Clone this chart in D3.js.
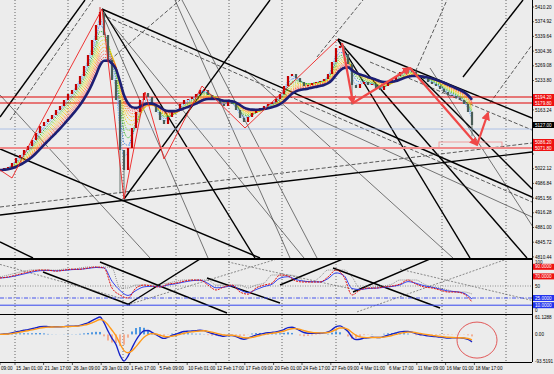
<!DOCTYPE html>
<html>
<head>
<meta charset="utf-8">
<script src="https://cdn.jsdelivr.net/npm/d3@7"></script>
<style>
  body { margin: 0; background: #ececec; }
  svg { display: block; }
  text { font-family: "Liberation Sans", Arial, sans-serif; }
</style>
</head>
<body>
<div id="chart"></div>
<script>
// closing prices, one per bar
const closes = [5019,5023.8,5026.2,5035.8,5047.8,5055,5067,5076.6,5091,5107.8,
  5124.6,5134.2,5141.4,5151,5163,5172.6,5187,5201.4,5211,5225.4,
  5244.6,5268.6,5295,5331,5367,5398.2,5343,5283,5235,5187,
  5067,5019,5071.8,5119.8,5158.2,5187,5203.8,5194.2,5175,5158.2,
  5139,5129.4,5146.2,5158.2,5163,5177.4,5187,5189.4,5194.2,5201.4,
  5211,5211,5199,5191.8,5187,5177.4,5172.6,5184.6,5177.4,5163,
  5143.8,5134.2,5146.2,5155.8,5163,5167.8,5172.6,5177.4,5182.2,5189.4,
  5201.4,5220.6,5244.6,5249.4,5239.8,5230.2,5220.6,5223,5227.8,5230.2,
  5232.6,5237.4,5249.4,5278.2,5311.8,5316.6,5297.4,5273.4,5223,5215.8,
  5225.4,5230.2,5223,5225.4,5215.8,5211,5220.6,5227.8,5235,5244.6,
  5254.2,5259,5261.4,5254.2,5244.6,5239.8,5237.4,5230.2,5225.4,5220.6,
  5213.4,5206.2,5199,5196.6,5191.8,5187,5177.4,5158.2,5127];
// [bar, high, low] for bars with visible wicks
const spikes = [[25,5410,5380],[30,5100,4962],[31,5060,4951.8],[88,5235,5175],[102,5266,5250],[118,5160,5100]];

// oscillator readings, one every second bar
const oscValues = [66.7,68.8,72.9,77,81,83.3,83,81,83,85,85,87.5,89.6,87.5,45.8,31.3,25,45.8,52,50,
  48,54,56,60,62.5,62.5,52,41.7,48,52,37.5,33,45.8,52,56,72.9,70.8,60.4,58.3,58.3,
  58.3,68.8,83.3,68.8,31.3,41.7,45.8,45.8,48,50,54,62.5,54,48,45.8,41.7,37.5,37.5,33.3,16.7];

const priceTicks = [5410.2,5374.92,5339.64,5304.36,5269.08,5233.8,5198.52,5163.24,5127.96,5092.68,
  5057.4,5022.12,4986.84,4951.56,4916.28,4881,4845.72,4810.44];
const redLevels = [5194.2, 5179.8];
const boxLevels = [5086.2, 5071.8];
const askLevel = 5117.4;
const boxBars = [109.75, 125.5];

const timeLabels = ["09:00","15 Jan 01:00","21 Jan 17:00","26 Jan 09:00","29 Jan 01:00","1 Feb 17:00",
  "5 Feb 09:00","10 Feb 01:00","12 Feb 17:00","17 Feb 09:00","20 Feb 01:00","24 Feb 17:00",
  "27 Feb 09:00","4 Mar 01:00","6 Mar 17:00","11 Mar 09:00","16 Mar 01:00","18 Mar 17:00"];
const timeLabelBars = [0,3.75,10.9,18.1,25.3,32.5,39.6,46.8,54,61.2,68.4,75.5,82.7,89.9,97,104.2,111.4,118.6];
const gridBars = [3.75,17,30.75,44,57.25,70.5,84,110.5,126.5];

const ribbonPeriods = [2,3,4,5,6,7,8,9,10,11];
const ribbonColors = ["#5aa8ff","#2f7fe8","#19b319","#7fd21e","#d8d800","#ffc400","#ff9a00","#ff6d2a","#ff3b3b","#e02020"];
const trendPeriod = 12;

// zigzag and arrows: [bar, price]
const zigzag = [[0,5019],[3,4999.8],[9.5,5119.8],[25.5,5405.4],[31,4949.4],[36.25,5206.2],[41,5045.4],[50.5,5220.6],[61.25,5119.8],[84.5,5333.4]];
const arrows = [[[85.5,5323.8],[88.25,5179.8]],[[88.25,5179.8],[102.5,5263.8]],[[102.5,5263.8],[119.25,5079]],[[119.25,5079],[122,5155.8]]];

// drawing objects in the price window: [[bar, price],[bar, price]]
const thickLines = [
  [[25.5,5405.4],[133,4954.2]], [[0,5069.4],[65,4807.8]], [[0,4846.2],[8.25,4807.8]],
  [[25.5,5405.4],[63.75,4807.8]], [[84.5,5331],[117.5,4807.8]], [[84.5,5333.4],[133,5143.8]],
  [[84.5,5331],[131.75,4807.8]], [[0,5146.2],[21.25,5427]], [[31,4949.4],[67.5,5427]],
  [[115.75,5242.2],[130.75,5427]], [[0,4911],[133,5062.2]], [[105,5242.2],[133,4973.4]]];
const thinLines = [
  [[25.75,5395.8],[76,4807.8]], [[26.25,5379],[52,4807.8]], [[75,5160.6],[133,4906.2]],
  [[107.5,5263.8],[133.25,4882.2]], [[61.25,5259],[113.25,4807.8]], [[43.75,5427],[72.5,4807.8]],
  [[45.5,5427],[79.25,4807.8]], [[0,5199],[37.5,4807.8]]];
const dashedLines = [
  [[0,4930.2],[133,5083.8]], [[2.5,5139],[23.25,5427]], [[27.5,5283],[45,5427]],
  [[79.25,5290.2],[90.75,5427]], [[103.25,5242.2],[111.75,5427]], [[122.5,5179.8],[133,5319]],
  [[26.75,5386.2],[133,4942.2]], [[92.5,5278.2],[133,5115]]];

// drawing objects in the oscillator window: [[bar, value],[bar, value]]
const oscThickLines = [
  [[25,100],[56.75,-6.25]], [[10.75,79.2],[32.5,10.4]], [[31.75,10.4],[50,106.25]],
  [[51.75,66.7],[70,14.6]], [[70,52.1],[85.75,106.25]], [[88.25,37.5],[107.5,106.25]],
  [[83.25,87.5],[110,4.2]]];
const oscDashedLines = [
  [[31.75,10.4],[69.25,106.25]], [[89.25,-4],[126.75,106.25]], [[0,95],[30,25]],
  [[57,100],[90,40]], [[100,85],[133,20]]];
const oscLevels = {mid: 50, dashdot: 25, solid: 10};
const oscRedLabels = [90, 70];
const oscBlueLabels = [25, 10];

// ---------- layout ----------
const W = 554, H = 374, plotW = 532;
const main = {top: 0, bottom: 258};
const osc = {top: 260, bottom: 314};
const macdP = {top: 315, bottom: 362};

const svg = d3.select("#chart").append("svg").attr("width", W).attr("height", H);
svg.append("rect").attr("width", W).attr("height", H).attr("fill", "#ececec");

const x = d3.scaleLinear().domain([0, 133]).range([0, plotW]);
const y = d3.scaleLinear().domain([4807.8, 5427]).range([main.bottom, main.top]);
const yo = d3.scaleLinear().domain([0, 100]).range([310, 262]);

function ema(arr, n) {
  const k = 2 / (n + 1);
  let prev = arr[0];
  return arr.map((v, i) => i === 0 ? prev : (prev = v * k + prev * (1 - k)));
}

const defs = svg.append("defs");
[["clipMain", main], ["clipOsc", osc], ["clipMacd", macdP]].forEach(([id, p]) => {
  defs.append("clipPath").attr("id", id).append("rect")
    .attr("x", 0).attr("y", p.top).attr("width", plotW).attr("height", p.bottom - p.top);
});
defs.append("marker").attr("id", "arrowHead").attr("viewBox", "0 0 10 10")
  .attr("refX", 8).attr("refY", 5).attr("markerWidth", 4).attr("markerHeight", 4)
  .attr("orient", "auto").append("path").attr("d", "M0,0L10,5L0,10z").attr("fill", "#f04848");

// grid
const grid = svg.append("g");
gridBars.forEach(b => {
  grid.append("line").attr("x1", x(b)).attr("x2", x(b)).attr("y1", 0).attr("y2", macdP.bottom)
    .attr("stroke", "#444").attr("stroke-width", 0.8).attr("stroke-dasharray", "1,2");
});

// ---------- main window ----------
const gm = svg.append("g").attr("clip-path", "url(#clipMain)");
const segLine = d3.line().x(d => x(d[0])).y(d => y(d[1]));

thickLines.forEach(l => gm.append("path").attr("d", segLine(l)).attr("stroke", "#000").attr("stroke-width", 1.4).attr("fill", "none"));
thinLines.forEach(l => gm.append("path").attr("d", segLine(l)).attr("stroke", "#222").attr("stroke-width", 0.6).attr("fill", "none"));
dashedLines.forEach(l => gm.append("path").attr("d", segLine(l)).attr("stroke", "#333").attr("stroke-width", 0.8)
  .attr("stroke-dasharray", "4,2").attr("fill", "none"));

// horizontal levels
redLevels.forEach(v => gm.append("line").attr("x1", 0).attr("x2", plotW).attr("y1", y(v)).attr("y2", y(v))
  .attr("stroke", "#e00000").attr("stroke-width", 1));
gm.append("line").attr("x1", 0).attr("x2", plotW).attr("y1", y(askLevel)).attr("y2", y(askLevel))
  .attr("stroke", "#9fb8e6").attr("stroke-width", 0.8);
gm.append("line").attr("x1", 0).attr("x2", plotW).attr("y1", y(boxLevels[1])).attr("y2", y(boxLevels[1]))
  .attr("stroke", "#f08a8a").attr("stroke-width", 2);
gm.append("rect").attr("x", x(boxBars[0])).attr("y", y(boxLevels[0]))
  .attr("width", x(boxBars[1]) - x(boxBars[0])).attr("height", y(boxLevels[1]) - y(boxLevels[0]))
  .attr("fill", "none").attr("stroke", "#f08a8a").attr("stroke-width", 0.8);

// MA ribbon (behind candles)
const maLine = d3.line().x((d, i) => x(i)).y(d => y(d)).curve(d3.curveMonotoneX);
ribbonPeriods.forEach((p, k) => {
  gm.append("path").attr("d", maLine(ema(closes, p))).attr("fill", "none")
    .attr("stroke", ribbonColors[k]).attr("stroke-width", 0.8).attr("stroke-dasharray", "1.5,1");
});

// candles
const bars = closes.map((c, i) => {
  const o = i === 0 ? c : closes[i - 1];
  const sp = spikes.find(s => s[0] === i);
  return {i, o, c, h: sp ? sp[1] : Math.max(o, c), l: sp ? sp[2] : Math.min(o, c)};
});
const bullC = "#c40000", bearC = "#4a5d57";
gm.selectAll(".wick").data(bars).enter().append("line")
  .attr("x1", d => x(d.i)).attr("x2", d => x(d.i)).attr("y1", d => y(d.h)).attr("y2", d => y(d.l))
  .attr("stroke", d => d.c >= d.o ? bullC : bearC).attr("stroke-width", 0.8);
gm.selectAll(".body").data(bars).enter().append("rect")
  .attr("x", d => x(d.i) - 1.1).attr("width", 2.2)
  .attr("y", d => y(Math.max(d.o, d.c))).attr("height", d => Math.max(1, Math.abs(y(d.o) - y(d.c))))
  .attr("fill", d => d.c >= d.o ? bullC : bearC);

gm.append("path").attr("d", maLine(ema(closes, trendPeriod))).attr("fill", "none")
  .attr("stroke", "#1c1f74").attr("stroke-width", 2.6);

// zigzag and arrows
gm.append("path").attr("d", segLine(zigzag)).attr("fill", "none").attr("stroke", "#ee2020").attr("stroke-width", 0.9);
arrows.forEach(a => gm.append("path").attr("d", segLine(a)).attr("fill", "none")
  .attr("stroke", "#f04848").attr("stroke-width", 2.2).attr("marker-end", "url(#arrowHead)"));

// ---------- oscillator window ----------
const go = svg.append("g").attr("clip-path", "url(#clipOsc)");
const oLine = d3.line().x(d => x(d[0])).y(d => yo(d[1]));
oscThickLines.forEach(l => go.append("path").attr("d", oLine(l)).attr("stroke", "#000").attr("stroke-width", 1.4).attr("fill", "none"));
oscDashedLines.forEach(l => go.append("path").attr("d", oLine(l)).attr("stroke", "#444").attr("stroke-width", 0.6)
  .attr("stroke-dasharray", "2,1.5").attr("fill", "none"));
go.append("line").attr("x1", 0).attr("x2", plotW).attr("y1", yo(oscLevels.mid)).attr("y2", yo(oscLevels.mid))
  .attr("stroke", "#777").attr("stroke-dasharray", "1,1.5").attr("stroke-width", 0.8);
go.append("line").attr("x1", 0).attr("x2", plotW).attr("y1", yo(oscLevels.dashdot)).attr("y2", yo(oscLevels.dashdot))
  .attr("stroke", "#3344ee").attr("stroke-dasharray", "4,1.5,1,1.5").attr("stroke-width", 0.9);
go.append("line").attr("x1", 0).attr("x2", plotW).attr("y1", yo(oscLevels.solid)).attr("y2", yo(oscLevels.solid))
  .attr("stroke", "#3344ee").attr("stroke-width", 1);
const oscPath = d3.line().x((d, i) => x(i * 2)).y(d => yo(d)).curve(d3.curveMonotoneX);
const oscSlow = ema(oscValues, 2);
const oscEnv = oscValues.map((v, i) => Math.max(v, oscValues[Math.max(0, i - 1)], oscValues[Math.min(oscValues.length - 1, i + 1)]));
go.append("path").attr("d", oscPath(oscEnv)).attr("fill", "none").attr("stroke", "#333").attr("stroke-width", 0.5).attr("stroke-dasharray", "1,1");
go.append("path").attr("d", oscPath(oscSlow)).attr("fill", "none").attr("stroke", "#2233ee").attr("stroke-width", 0.9);
go.append("path").attr("d", oscPath(oscValues)).attr("fill", "none").attr("stroke", "#e01010").attr("stroke-width", 1).attr("stroke-dasharray", "2,1");

// ---------- MACD window ----------
const fast = ema(closes, 3), slow = ema(closes, 8);
const macd = fast.map((v, i) => v - slow[i]);
const signal = ema(macd, 4);
const hist = macd.map((v, i) => v - signal[i]);
const mExt = d3.extent(macd.concat(hist));
const ym = d3.scaleLinear().domain(mExt).range([macdP.bottom - 1, macdP.top + 2]);
const gmc = svg.append("g").attr("clip-path", "url(#clipMacd)");
gmc.selectAll(".hist").data(hist).enter().append("rect")
  .attr("x", (d, i) => x(i) - 0.9).attr("width", 1.8)
  .attr("y", d => Math.min(ym(d), ym(0))).attr("height", d => Math.abs(ym(d) - ym(0)))
  .attr("fill", d => d >= 0 ? "#3d8ee0" : "#f4a98a");
const mLine = d3.line().x((d, i) => x(i)).y(d => ym(d)).curve(d3.curveMonotoneX);
gmc.append("path").attr("d", mLine(macd)).attr("fill", "none").attr("stroke", "#1522c8").attr("stroke-width", 1.4);
gmc.append("path").attr("d", mLine(signal)).attr("fill", "none").attr("stroke", "#ff9a1a").attr("stroke-width", 1.4);
gmc.append("ellipse").attr("cx", x(119.25)).attr("cy", ym(-20)).attr("rx", 20).attr("ry", 18)
  .attr("fill", "none").attr("stroke", "#e04848").attr("stroke-width", 0.9);

// ---------- frames ----------
svg.append("line").attr("x1", 0).attr("x2", plotW).attr("y1", 259).attr("y2", 259).attr("stroke", "#000").attr("stroke-width", 2);
svg.append("line").attr("x1", 0).attr("x2", plotW).attr("y1", osc.bottom + 0.5).attr("y2", osc.bottom + 0.5).attr("stroke", "#000").attr("stroke-width", 1);
svg.append("line").attr("x1", 0).attr("x2", plotW).attr("y1", macdP.bottom + 0.5).attr("y2", macdP.bottom + 0.5).attr("stroke", "#000").attr("stroke-width", 1);
svg.append("line").attr("x1", plotW + 0.5).attr("x2", plotW + 0.5).attr("y1", 0).attr("y2", macdP.bottom).attr("stroke", "#000").attr("stroke-width", 1);

// ---------- right-hand labels ----------
const fs = 4.6;
const lab = svg.append("g").attr("font-size", fs);
const boxedY = redLevels.concat(boxLevels, [closes[closes.length - 1]]).map(v => y(v));
priceTicks.forEach(v => {
  lab.append("line").attr("x1", plotW).attr("x2", plotW + 2).attr("y1", y(v)).attr("y2", y(v)).attr("stroke", "#000").attr("stroke-width", 0.6);
  if (boxedY.some(b => Math.abs(b - y(v)) < 6.5)) return;
  lab.append("text").attr("x", plotW + 3).attr("y", y(v)).attr("dy", "0.35em").text(v.toFixed(2));
});
function boxLabel(yy, txt, bg) {
  lab.append("rect").attr("x", plotW + 1).attr("y", yy - 3).attr("width", 21).attr("height", 6).attr("fill", bg);
  lab.append("text").attr("x", plotW + 3).attr("y", yy).attr("dy", "0.35em").attr("fill", "#fff").text(txt);
}
redLevels.concat(boxLevels).forEach(v => boxLabel(y(v), v.toFixed(2), "#ee1111"));
boxLabel(y(closes[closes.length - 1]), closes[closes.length - 1].toFixed(2), "#000");

lab.append("text").attr("x", plotW + 3).attr("y", yo(100)).attr("dy", "0.35em").text("100");
lab.append("text").attr("x", plotW + 3).attr("y", yo(50)).attr("dy", "0.35em").text("50");
lab.append("text").attr("x", plotW + 3).attr("y", yo(0)).attr("dy", "0.35em").text("0");
oscRedLabels.forEach(v => boxLabel(yo(v), v.toFixed(4), "#ee1111"));
oscBlueLabels.forEach(v => boxLabel(yo(v), v.toFixed(4), "#2233ee"));

lab.append("text").attr("x", plotW + 3).attr("y", macdP.top + 2).attr("dy", "0.35em").text(mExt[1].toFixed(4));
lab.append("text").attr("x", plotW + 3).attr("y", ym(0)).attr("dy", "0.35em").text("0.00");
lab.append("text").attr("x", plotW + 3).attr("y", macdP.bottom - 1).attr("dy", "0.35em").text(mExt[0].toFixed(4));

// ---------- time axis ----------
const tx = svg.append("g").attr("font-size", fs);
timeLabels.forEach((t, k) => {
  const xx = x(timeLabelBars[k]);
  tx.append("line").attr("x1", xx).attr("x2", xx).attr("y1", macdP.bottom).attr("y2", macdP.bottom + 3).attr("stroke", "#000").attr("stroke-width", 0.6);
  tx.append("text").attr("x", xx + 1).attr("y", 370).text(t);
});
</script>
</body>
</html>
